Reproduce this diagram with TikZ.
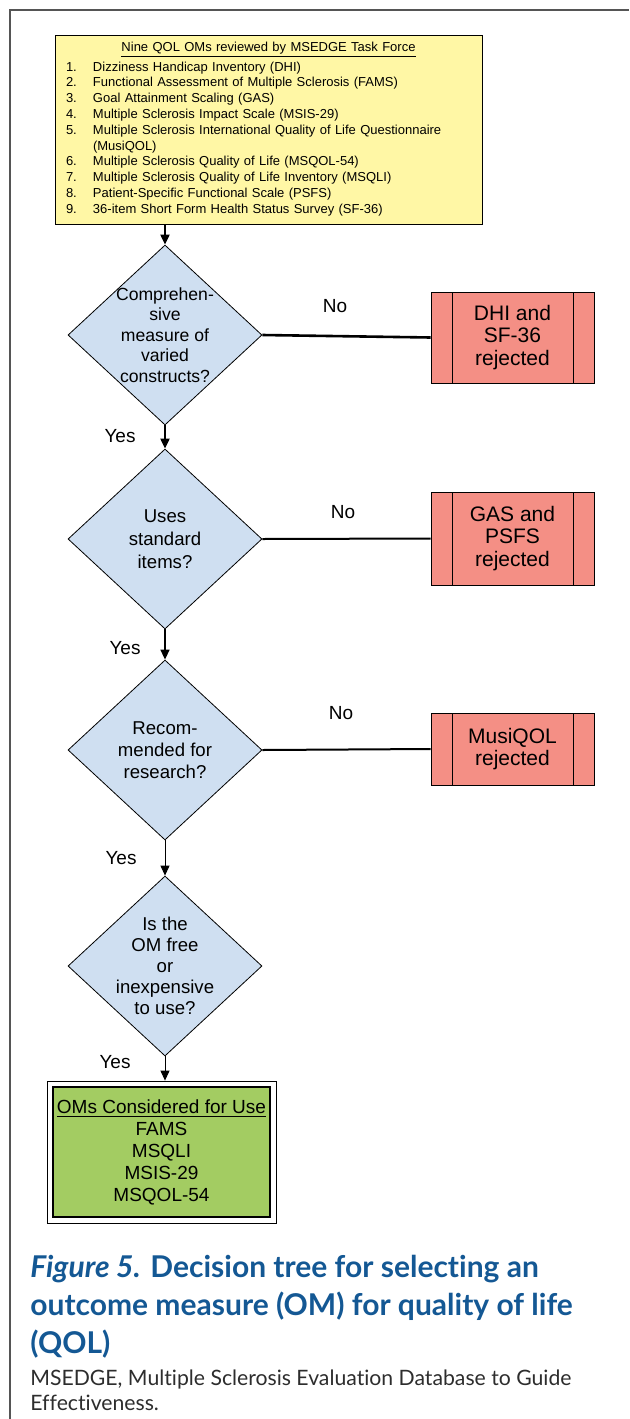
\documentclass[tikz,border=0pt]{standalone}
\usepackage{fontspec}
\setmainfont{Liberation Sans}
\newfontfamily\capfont[Ligatures=NoCommon]{Lato}
\usetikzlibrary{arrows.meta}
\usetikzlibrary{shapes.geometric}

\definecolor{noteyellow}{RGB}{255,247,165}
\definecolor{askblue}{RGB}{207,223,241}
\definecolor{rejred}{RGB}{244,143,133}
\definecolor{okgreen}{RGB}{163,204,98}
\definecolor{capblue}{RGB}{20,88,148}
\definecolor{framegray}{RGB}{85,85,85}
\definecolor{notegray}{RGB}{45,45,45}

\tikzset{
  ask/.style={diamond, draw, fill=askblue, minimum width=97pt, minimum height=90pt, inner sep=0pt},
  asktext/.style={align=center, font=\fontsize{9.3}{10.5}\selectfont},
  rej/.style={draw, fill=rejred, minimum width=81.5pt, align=center,
    font=\fontsize{10.5}{11.2}\selectfont,
    path picture={\draw ([xshift=10.5pt]path picture bounding box.north west) -- ([xshift=10.5pt]path picture bounding box.south west)
      ([xshift=-10.5pt]path picture bounding box.north east) -- ([xshift=-10.5pt]path picture bounding box.south east);}},
  ans/.style={font=\fontsize{9.5}{11}\selectfont},
  flow/.style={-{Triangle[length=5pt,width=4.5pt]}},
}

\begin{document}
\begin{tikzpicture}[x=0.5pt,y=-0.5pt]
  \useasboundingbox (0,0) rectangle (629,1419);

  % page frame
  \draw[framegray, line width=1pt] (10,1419) -- (10,10) -- (629,10);

  % list of measures
  \node[draw, fill=noteyellow, minimum width=213.5pt, minimum height=92pt, inner xsep=5.5pt,
        text width=202.5pt, font=\fontsize{6.5}{7.9}\selectfont] (pool) at (268.5,130) {%
    {\centering\underline{Nine QOL OMs reviewed by MSEDGE Task Force}\par}
    \begin{tabular}{@{}p{13.5pt}@{}l@{}}
      1. & Dizziness Handicap Inventory (DHI)\\
      2. & Functional Assessment of Multiple Sclerosis (FAMS)\\
      3. & Goal Attainment Scaling (GAS)\\
      4. & Multiple Sclerosis Impact Scale (MSIS-29)\\
      5. & Multiple Sclerosis International Quality of Life Questionnaire\\
         & (MusiQOL)\\
      6. & Multiple Sclerosis Quality of Life (MSQOL-54)\\
      7. & Multiple Sclerosis Quality of Life Inventory (MSQLI)\\
      8. & Patient-Specific Functional Scale (PSFS)\\
      9. & 36-item Short Form Health Status Survey (SF-36)
    \end{tabular}};

  % questions
  \node[ask, label={[asktext, font=\fontsize{8.8}{10.3}\selectfont]center:{Comprehen-\\sive\\measure of\\varied\\constructs?}}] (q1) at (165,335) {};
  \node[ask, label={[asktext, font=\fontsize{9.3}{11.5}\selectfont]center:{Uses\\standard\\items?}}] (q2) at (165,539) {};
  \node[ask, label={[asktext, font=\fontsize{9.3}{11}\selectfont]center:{Recom-\\mended for\\research?}}] (q3) at (165,750) {};
  \node[ask, label={[asktext]center:{Is the\\OM free\\or\\inexpensive\\to use?}}] (q4) at (165,966) {};

  % rejections
  \node[rej, minimum height=45.5pt] (r1) at (512.5,337.5) {DHI and\\SF-36\\rejected};
  \node[rej, minimum height=46.5pt] (r2) at (512.5,538.5) {GAS and\\PSFS\\rejected};
  \node[rej, minimum height=36pt] (r3) at (512.5,749) {MusiQOL\\rejected};

  % result
  \node[draw, thin, fill=white, minimum width=114.5pt, minimum height=71pt, align=center,
        font=\fontsize{9.5}{11}\selectfont,
        path picture={\filldraw[fill=okgreen, line width=1.1pt]
          ([shift={(3pt,-3pt)}]path picture bounding box.north west) rectangle
          ([shift={(-3pt,3pt)}]path picture bounding box.south east);}] (ok) at (161.5,1152)
    {\underline{OMs Considered for Use}\\FAMS\\MSQLI\\MSIS-29\\MSQOL-54};

  % answers
  \node[ans] (y1) at (120,436) {Yes};
  \node[ans] (y2) at (125,648) {Yes};
  \node[ans] (y3) at (121,858) {Yes};
  \node[ans] (y4) at (115,1062) {Yes};
  \node[ans] (n1) at (335,306) {No};
  \node[ans] (n2) at (343,512) {No};
  \node[ans] (n3) at (341,713) {No};

  % connectors
  \draw[flow, line width=1pt] (pool.south -| q1.north) -- (q1.north);
  \draw[flow, line width=1pt] (q1.south) -- (q2.north);
  \draw[flow, line width=0.75pt] (q2.south) -- (q3.north);
  \draw[flow, line width=0.5pt] (q3.south) -- (q4.north);
  \draw[flow, line width=0.5pt] (q4.south) -- (q4.south |- ok.north);
  \draw[line width=1.3pt] (q1.east) -- (r1.west);
  \draw[line width=1pt] (q2.east) -- (r2.west);
  \draw[line width=1pt] (q3.east) -- (r3.west);

  % caption
  \node[anchor=north west, inner sep=0pt, align=left, text=capblue,
        font=\capfont\bfseries\fontsize{15}{19}\selectfont] (cap) at (30,1255)
    {\textit{Figure 5.} Decision tree for selecting an\\outcome measure (OM) for quality of life\\(QOL)};
  \node[anchor=north west, inner sep=0pt, align=left, text=notegray,
        font=\capfont\fontsize{10.6}{12.5}\selectfont] (note) at (30,1369)
    {MSEDGE, Multiple Sclerosis Evaluation Database to Guide\\Effectiveness.};
\end{tikzpicture}
\end{document}
